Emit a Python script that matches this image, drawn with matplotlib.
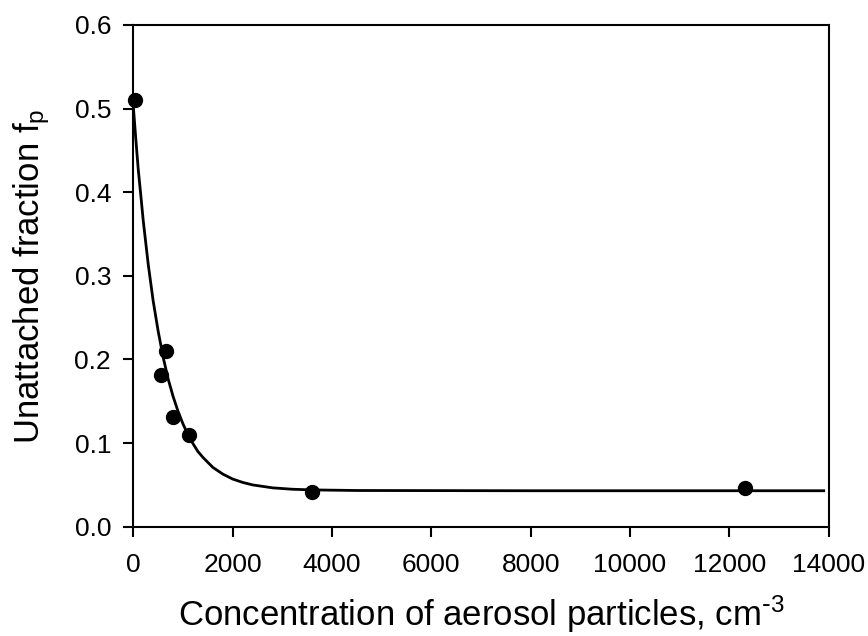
import matplotlib
matplotlib.use("Agg")
import matplotlib.pyplot as plt

# Measured data points
conc = [30, 560, 650, 805, 1128, 3600, 12315]
frac = [0.51, 0.182, 0.210, 0.131, 0.110, 0.041, 0.046]

# Fitted curve
curve_x = [0, 50, 100, 150, 200, 250, 300, 400, 500, 600, 700, 800, 900,
           1000, 1100, 1200, 1300, 1400, 1600, 1800, 2000, 2200, 2400, 2800,
           3200, 3600, 4500, 8000, 13900]
curve_y = [0.503, 0.464, 0.427, 0.397, 0.366, 0.340, 0.314, 0.270, 0.234,
           0.203, 0.177, 0.156, 0.138, 0.123, 0.110, 0.0995, 0.090, 0.083,
           0.071, 0.063, 0.057, 0.053, 0.050, 0.0465, 0.0448, 0.0440, 0.0433,
           0.0430, 0.0430]

x_ticks = [0, 2000, 4000, 6000, 8000, 10000, 12000, 14000]
y_ticks = [0.0, 0.1, 0.2, 0.3, 0.4, 0.5, 0.6]

plt.rcParams['font.family'] = ['Liberation Sans', 'DejaVu Sans']
plt.rcParams['mathtext.default'] = 'regular'

fig = plt.figure(figsize=(8.68, 6.36), dpi=100)
ax = fig.add_axes([133.3 / 868, 1 - 526.7 / 636, (828.7 - 133.3) / 868, (526.7 - 25) / 636])

ax.plot(curve_x, curve_y, color='black', lw=2.0, zorder=2,
        solid_joinstyle='round')
ax.plot(conc, frac, 'o', color='black', ms=10, zorder=3, clip_on=False)

ax.set_xlim(0, 14000)
ax.set_ylim(0, 0.6)
ax.set_xticks(x_ticks)
ax.set_xticklabels([str(t) for t in x_ticks])
ax.set_yticks(y_ticks)
ax.set_yticklabels([f"{t:.1f}" for t in y_ticks])

for s in ax.spines.values():
    s.set_linewidth(1.5)
ax.tick_params(direction='out', length=7, width=1.5, labelsize=19)
ax.tick_params(axis='x', pad=12)
ax.tick_params(axis='y', pad=9)

ax.set_xlabel('Concentration of aerosol particles, cm$^{\\text{-}3}$',
              fontsize=25, labelpad=12)
ax.set_ylabel('Unattached fraction f$_{p}$', fontsize=25, labelpad=16)

fig.savefig('out.png', dpi=100)
